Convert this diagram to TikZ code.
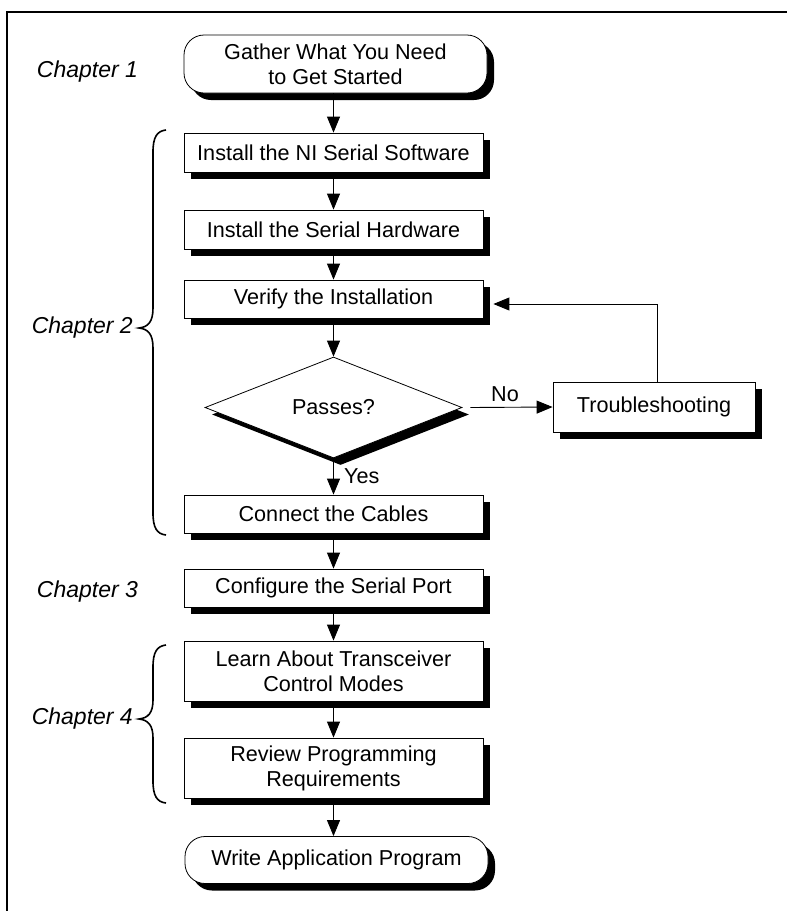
\documentclass[tikz,border=0pt]{standalone}
\usepackage{fontspec}
\setmainfont{Liberation Sans}
\usetikzlibrary{arrows.meta,shapes.geometric,shadows,calc}
\begin{document}
\begin{tikzpicture}[x=1pt,y=-1pt,
  boxfont/.style={font=\fontsize{21.6}{25}\selectfont},
  shad/.style={drop shadow={shadow xshift=7pt,shadow yshift=-7pt,opacity=1,fill=black}},
  stepbox/.style={draw,fill=white,line width=0.8pt,minimum width=299pt,inner sep=0pt,align=center,boxfont,shad},
  termbox/.style={stepbox,rounded corners=20pt,minimum width=303pt},
  decbox/.style={diamond,draw,fill=white,line width=0.8pt,minimum width=257pt,minimum height=101pt,inner sep=0pt,aspect=2.5,boxfont,shad},
  chap/.style={font=\fontsize{23}{26}\selectfont\itshape,inner sep=0pt},
  lbl/.style={boxfont,inner sep=0pt},
  arr/.style={line width=0.9pt,-{Triangle[length=16pt,width=13pt]}},
  brace/.style={line width=1.6pt}]
\useasboundingbox (0,0) rectangle (787,911);
\draw[line width=2.5pt] (787,12) -- (7,12) -- (7,911);

\node[termbox,minimum height=58pt] (gather) at (335.5,64) {Gather What You Need\\to Get Started};
\node[stepbox,minimum height=39pt] (soft) at (333.5,152.5) {Install the NI Serial Software};
\node[stepbox,minimum height=39pt] (hard) at (333.5,229.5) {Install the Serial Hardware};
\node[stepbox,minimum height=38pt] (verify) at (333.5,299) {Verify the Installation};
\node[decbox] (dia) at (333.5,407.5) {Passes?};
\node[stepbox,minimum width=202pt,minimum height=50pt] (trouble) at (654,407) {Troubleshooting};
\node[stepbox,minimum height=38pt] (connect) at (333.5,514) {Connect the Cables};
\node[stepbox,minimum height=38pt] (config) at (333.5,588) {Configure the Serial Port};
\node[stepbox,minimum height=60pt] (learn) at (333.5,671) {Learn About Transceiver\\Control Modes};
\node[stepbox,minimum height=60pt] (review) at (333.5,768) {Review Programming\\Requirements};
\node[termbox,minimum height=47pt] (write) at (336.5,860) {Write Application Program};

\node[chap] (ch1) at (87.5,72) {Chapter 1};
\node[chap,anchor=east] (ch2) at (133,328) {Chapter 2};
\node[chap] (ch3) at (87.5,592) {Chapter 3};
\node[chap,anchor=east] (ch4) at (133,719) {Chapter 4};

\draw[arr] (gather.south -| soft.north) -- (soft.north);
\draw[arr] (soft) -- (hard);
\draw[arr] (hard) -- (verify);
\draw[arr] (verify) -- (dia);
\draw[arr] (dia.south) -- (connect.north);
\draw[arr] (connect) -- (config);
\draw[arr] (config) -- (learn);
\draw[arr] (learn) -- (review);
\draw[arr] (review.south) -- (review.south |- write.north);
\coordinate (noStart) at ($(dia.east)+(8,0)$);
\draw[arr] (noStart) -- (trouble.west);
\coordinate (fbUp) at ($(trouble.north)+(3,0)$);
\coordinate (fbEnd) at ($(verify.east)+(10,5)$);
\draw[arr] (fbUp) |- (fbEnd);
\node[lbl] (no) at (505,394) {No};
\node[lbl,anchor=west] (yes) at (344,476) {Yes};

\draw[brace] (166,130) .. controls (157,131) and (153,137) .. (153,152) -- (153,308) .. controls (153,322) and (148,327) .. (139,328) .. controls (148,329) and (153,334) .. (153,348) -- (153,513) .. controls (153,528) and (157,534) .. (166,535);
\draw[brace] (166,645) .. controls (157,646) and (153,652) .. (153,667) -- (153,700) .. controls (153,713) and (148,718) .. (139,719) .. controls (148,720) and (153,725) .. (153,738) -- (153,781) .. controls (153,796) and (157,802) .. (166,803);
\end{tikzpicture}
\end{document}
